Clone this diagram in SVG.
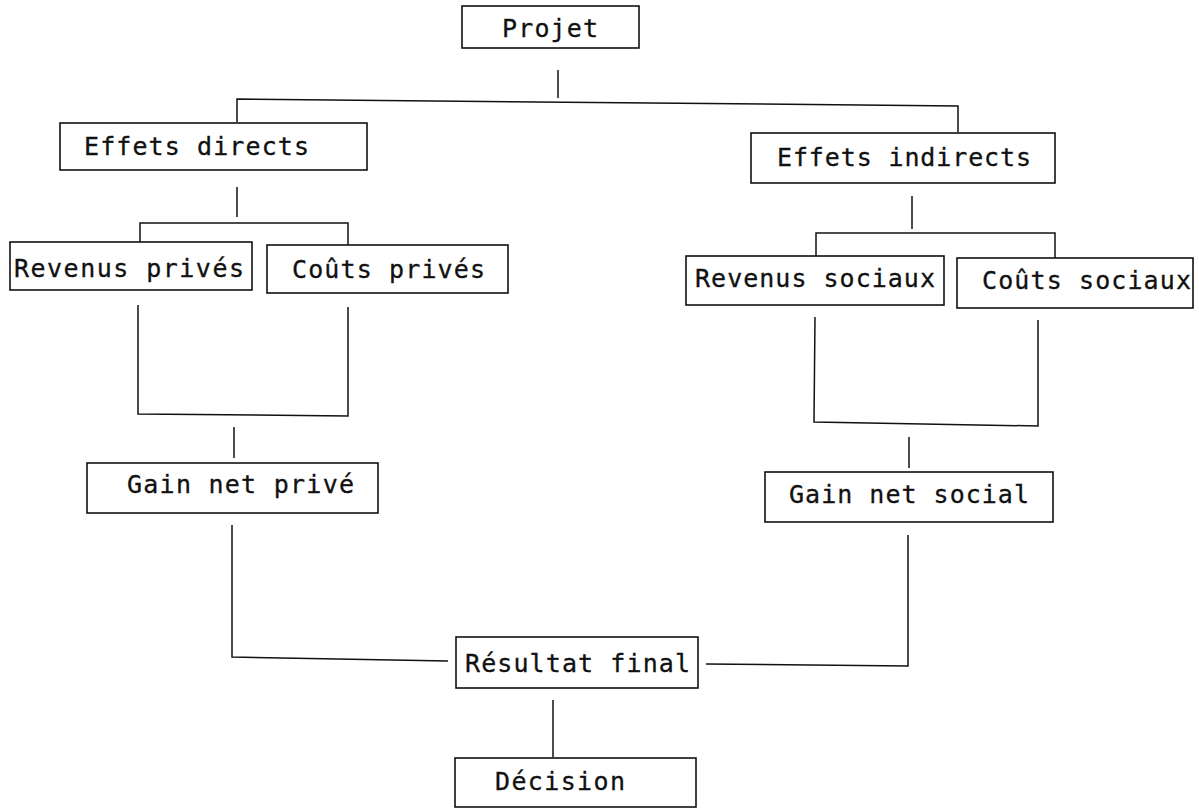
<svg xmlns="http://www.w3.org/2000/svg" width="1199" height="809" viewBox="0 0 1199 809">
<style>
.box{fill:#fff;stroke:#111;stroke-width:1.6}
.lbl{font-family:"DejaVu Sans Mono","Liberation Mono",monospace;font-size:25px;fill:#111;stroke:#111;stroke-width:0.3}
.con{fill:none;stroke:#111;stroke-width:1.5}
</style>
<rect width="1199" height="809" fill="#fff"/>
<g id="connectors">
<path class="con" d="M558,70 L558,98"/>
<path class="con" d="M237,122 L237,99 L958,106 L958,132"/>
<path class="con" d="M237,187 L237,217"/>
<path class="con" d="M140,242 L140,223 L348,223 L348,245"/>
<path class="con" d="M912,196 L912,229"/>
<path class="con" d="M816,256 L816,233 L1055,233 L1055,259"/>
<path class="con" d="M138,305 L138,414 L348,416 L348,307"/>
<path class="con" d="M234,427 L234,458"/>
<path class="con" d="M815,317 L814,422 L1038,426 L1038,320"/>
<path class="con" d="M909,437 L909,468"/>
<path class="con" d="M232,525 L232,657 L448,661"/>
<path class="con" d="M908,535 L908,666 L706,664"/>
<path class="con" d="M553,700 L553,757"/>
</g>
<g id="projet"><rect class="box" x="462" y="6" width="177" height="42"/><text class="lbl" x="502" y="37" textLength="96" lengthAdjust="spacing">Projet</text></g>
<g id="effets-directs"><rect class="box" x="60" y="123" width="307" height="47"/><text class="lbl" x="84" y="155" textLength="225" lengthAdjust="spacing">Effets directs</text></g>
<g id="effets-indirects"><rect class="box" x="751" y="133" width="304" height="50"/><text class="lbl" x="777" y="166" textLength="254" lengthAdjust="spacing">Effets indirects</text></g>
<g id="revenus-prives"><rect class="box" x="10" y="242" width="242" height="48"/><text class="lbl" x="14" y="277" textLength="230" lengthAdjust="spacing">Revenus privés</text></g>
<g id="couts-prives"><rect class="box" x="267" y="245" width="241" height="48"/><text class="lbl" x="292" y="278" textLength="193" lengthAdjust="spacing">Coûts privés</text></g>
<g id="revenus-sociaux"><rect class="box" x="686" y="256" width="258" height="49"/><text class="lbl" x="695" y="287" textLength="240" lengthAdjust="spacing">Revenus sociaux</text></g>
<g id="couts-sociaux"><rect class="box" x="957" y="258" width="236" height="50"/><text class="lbl" x="982" y="289" textLength="209" lengthAdjust="spacing">Coûts sociaux</text></g>
<g id="gain-net-prive"><rect class="box" x="87" y="463" width="291" height="50"/><text class="lbl" x="127" y="493" textLength="227" lengthAdjust="spacing">Gain net privé</text></g>
<g id="gain-net-social"><rect class="box" x="765" y="472" width="288" height="50"/><text class="lbl" x="789" y="503" textLength="240" lengthAdjust="spacing">Gain net social</text></g>
<g id="resultat-final"><rect class="box" x="456" y="637" width="242" height="51"/><text class="lbl" x="465" y="672" textLength="225" lengthAdjust="spacing">Résultat final</text></g>
<g id="decision"><rect class="box" x="455" y="758" width="241" height="49"/><text class="lbl" x="495" y="790" textLength="130" lengthAdjust="spacing">Décision</text></g>
</svg>
